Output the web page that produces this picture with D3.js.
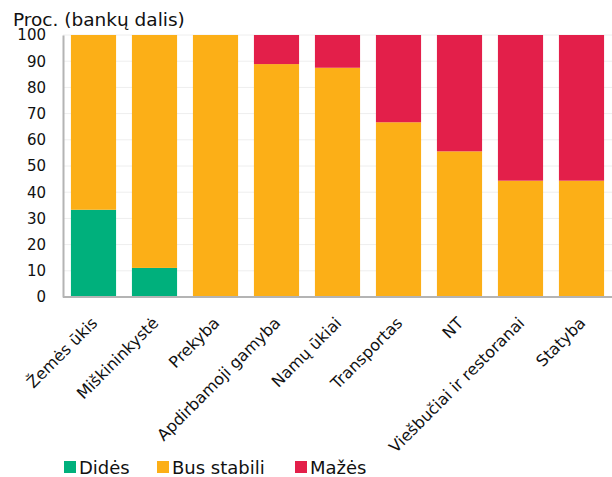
<!DOCTYPE html>
<html>
<head>
<meta charset="utf-8">
<script src="https://cdn.jsdelivr.net/npm/d3@7"></script>
<style>
  body { margin: 0; background: #fff; }
  svg { font-family: Verdana, "DejaVu Sans", sans-serif; }
</style>
</head>
<body>
<div id="chart"></div>
<script>
const categories = ["Žemės ūkis", "Miškininkystė", "Prekyba", "Apdirbamoji gamyba", "Namų ūkiai",
  "Transportas", "NT", "Viešbučiai ir restoranai", "Statyba"];
const didesValues = [33.3, 11.1, 0, 0, 0, 0, 0, 0, 0];
const stabiliValues = [66.7, 88.9, 100, 88.9, 87.5, 66.7, 55.6, 44.4, 44.4];
const mazesValues = [0, 0, 0, 11.1, 12.5, 33.3, 44.4, 55.6, 55.6];
const seriesNames = ["Didės", "Bus stabili", "Mažės"];
const yTicks = [0, 10, 20, 30, 40, 50, 60, 70, 80, 90, 100];

const colors = ["#00b07c", "#fcaf17", "#e31f4a"];
const width = 612, height = 477;
const margin = { top: 35, right: 0, bottom: 180, left: 63 };

const rows = categories.map((c, i) => ({
  cat: c, "Didės": didesValues[i], "Bus stabili": stabiliValues[i], "Mažės": mazesValues[i]
}));

const svg = d3.select("#chart").append("svg")
  .attr("width", width).attr("height", height);

const x = d3.scaleBand().domain(categories)
  .range([margin.left, width - margin.right])
  .paddingInner(0.26).paddingOuter(0.13);
const y = d3.scaleLinear().domain([0, 100]).range([height - margin.bottom, margin.top]);

// gridlines
svg.append("g").selectAll("line").data(yTicks.slice(1)).join("line")
  .attr("x1", margin.left).attr("x2", width)
  .attr("y1", d => y(d)).attr("y2", d => y(d))
  .attr("stroke", "#eeeeee").attr("stroke-width", 1);

const stack = d3.stack().keys(seriesNames)(rows);

svg.append("g").selectAll("g").data(stack).join("g")
  .attr("fill", (d, i) => colors[i])
  .selectAll("rect").data(d => d).join("rect")
  .attr("x", d => x(d.data.cat))
  .attr("width", x.bandwidth())
  .attr("y", d => y(d[1]))
  .attr("height", d => y(d[0]) - y(d[1]));

// y axis
const yAxis = svg.append("g")
  .attr("transform", `translate(${margin.left},0)`)
  .call(d3.axisLeft(y).tickValues(yTicks).tickSize(0).tickPadding(17));
yAxis.select(".domain").attr("stroke", "#b4b4b4").attr("stroke-width", 2);
yAxis.selectAll("text").attr("font-size", 15).attr("fill", "#111")
  .attr("font-family", "Verdana, 'DejaVu Sans', sans-serif");

// x axis
const xAxis = svg.append("g")
  .attr("transform", `translate(0,${y(0)})`)
  .call(d3.axisBottom(x).tickSize(0).tickPadding(0));
xAxis.select(".domain").attr("stroke", "#b4b4b4").attr("stroke-width", 2)
  .attr("d", `M${margin.left},0H${width}`);
xAxis.selectAll("text")
  .attr("font-size", 16).attr("fill", "#111")
  .attr("font-family", "Verdana, 'DejaVu Sans', sans-serif")
  .attr("text-anchor", "end")
  .attr("y", 0).attr("dy", 0)
  .attr("transform", "translate(5,27) rotate(-45)");

// title
svg.append("text").attr("x", 13).attr("y", 26)
  .attr("font-size", 18.5).attr("fill", "#111")
  .text("Proc. (bankų dalis)");

// legend
const legendX = [64, 157, 295];
const legend = svg.append("g").selectAll("g").data(seriesNames).join("g")
  .attr("transform", (d, i) => `translate(${legendX[i]},461)`);
legend.append("rect").attr("width", 12).attr("height", 12)
  .attr("fill", (d, i) => colors[i]);
legend.append("text").attr("x", 15).attr("y", 13)
  .attr("font-size", 18).attr("fill", "#111").text(d => d);
</script>
</body>
</html>
